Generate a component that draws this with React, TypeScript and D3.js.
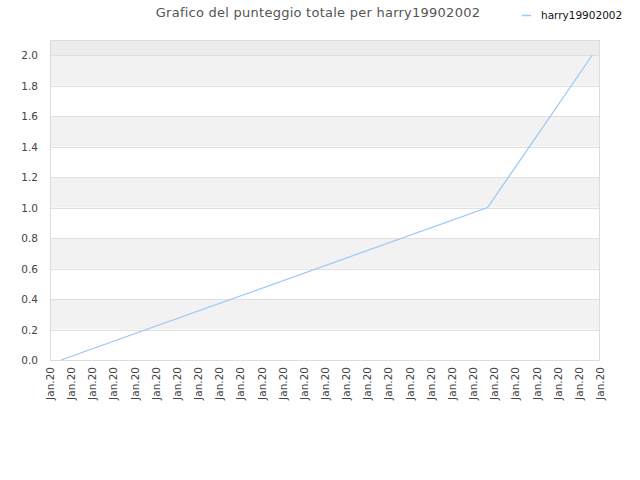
import React from "react";
import * as d3 from "d3";

const title = "Grafico del punteggio totale per harry19902002";
const seriesName = "harry19902002";
const pointDates = ["2020-01-01T12:30", "2020-01-21T16:30", "2020-01-26T15:20"];
const pointValues = [0, 1, 2];
const xStart = "2020-01-01T00:00";
const xEnd = "2020-01-27T00:00";
const tickLabel = "Jan.20";
const yTicks = [0, 0.2, 0.4, 0.6, 0.8, 1.0, 1.2, 1.4, 1.6, 1.8, 2.0];

const W = 640, H = 480;
const L = 50, R = 600, T = 40, B = 360;
const font = "'DejaVu Sans', sans-serif";

export default function App() {
  const parse = (s: string) => new Date(s);
  const x = d3.scaleTime().domain([parse(xStart), parse(xEnd)]).range([L, R]);
  const y = d3.scaleLinear().domain([0, 2]).range([B, 55]);
  const days = d3.timeDay.range(parse(xStart), d3.timeDay.offset(parse(xEnd), 1));
  const data = pointDates.map((d, i) => ({ d: parse(d), v: pointValues[i] }));
  const line = d3.line<{ d: Date; v: number }>().x((p) => x(p.d)).y((p) => y(p.v));

  const bands = yTicks.slice(0, -1).map((t, i) => ({ lo: t, hi: yTicks[i + 1], i }));

  return (
    <svg width={W} height={H} style={{ display: "block", position: "absolute", left: 0, top: 0 }}>
      <rect x={0} y={0} width={W} height={H} fill="#fff" />
      <rect x={L} y={T} width={R - L} height={y(2) - T} fill="#ececec" />
      {bands.map((b) => (
        <rect key={b.i} x={L} y={y(b.hi)} width={R - L} height={y(b.lo) - y(b.hi)}
          fill={b.i % 2 === 1 ? "#f2f2f2" : "#ffffff"} />
      ))}
      {yTicks.map((t) => (
        <line key={t} x1={L} x2={R} y1={Math.round(y(t)) + 0.5} y2={Math.round(y(t)) + 0.5} stroke="#e0e0e0" />
      ))}
      <rect x={L + 0.5} y={T + 0.5} width={R - L - 1} height={B - T} fill="none" stroke="#dcdcdc" />
      <path d={line(data) || ""} fill="none" stroke="#99c8f5" strokeWidth={1.2} />
      {yTicks.map((t) => (
        <text key={t} x={38} y={y(t) + 4} textAnchor="end" fontFamily={font} fontSize={10.5} fill="#444">
          {t.toFixed(1)}
        </text>
      ))}
      {days.map((d, i) => (
        <text key={i} transform={`translate(${x(d) + 4},${367}) rotate(-90)`} textAnchor="end"
          fontFamily={font} fontSize={10.5} fill="#444">
          {tickLabel}
        </text>
      ))}
      <text x={318} y={17} textAnchor="middle" fontFamily={font} fontSize={13} fill="#555" letterSpacing={0.25}>
        {title}
      </text>
      <line x1={522} x2={531} y1={15.5} y2={15.5} stroke="#99c8f5" strokeWidth={1.5} />
      <text x={541} y={19} fontFamily={font} fontSize={10.5} fill="#111">
        {seriesName}
      </text>
    </svg>
  );
}
